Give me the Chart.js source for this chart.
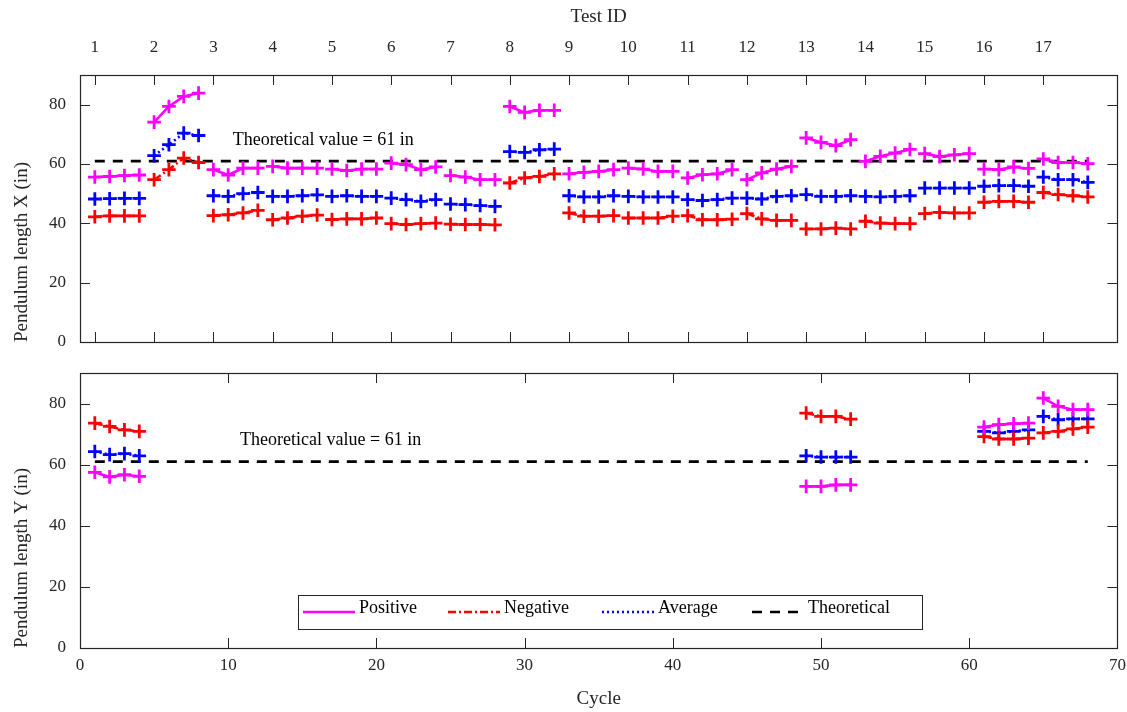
<!DOCTYPE html>
<html>
<head>
<meta charset="utf-8">
<script src="https://cdn.jsdelivr.net/npm/chart.js@4.4.0/dist/chart.umd.js"></script>
<style>
  body { margin: 0; background: #fff; }
  #wrap { position: relative; width: 1127px; height: 712px; overflow: hidden; }
  #wrap canvas { position: absolute; left: 0; }
  #chartX { top: 0; }
  #chartY { top: 358px; }
</style>
</head>
<body>
<div id="wrap">
  <canvas id="chartX" width="1127" height="358"></canvas>
  <canvas id="chartY" width="1127" height="354"></canvas>
</div>
<script>
// ---- data ----
const cyclesX = [
  1, 2, 3, 4, 5, 6, 7, 8, 9, 10, 11, 12, 13, 14, 15, 16, 17,
  18, 19, 20, 21, 22, 23, 24, 25, 26, 27, 28, 29, 30, 31, 32, 33, 34,
  35, 36, 37, 38, 39, 40, 41, 42, 43, 44, 45, 46, 47, 48, 49, 50, 51,
  52, 53, 54, 55, 56, 57, 58, 59, 60, 61, 62, 63, 64, 65, 66, 67, 68
];

// Pendulum length X, one row per test (4 cycles each)
const positiveX = [
  55.6, 55.8, 56.1, 56.3,
  74.1, 79.4, 82.8, 83.9,
  58.1, 56.3, 58.6, 58.6,
  59.2, 58.6, 58.6, 58.6,
  58.3, 57.8, 58.3, 58.3,
  60.3, 59.8, 58.1, 59.0,
  56.1, 55.6, 54.7, 54.7,
  79.4, 77.4, 78.1, 78.1,
  56.7, 57.2, 57.5, 58.1,
  58.6, 58.3, 57.5, 57.5,
  55.3, 56.4, 56.7, 58.1,
  54.7, 57.0, 58.3, 59.2,
  68.8, 67.3, 66.2, 68.2,
  60.9, 62.6, 63.7, 64.9,
  63.5, 62.5, 63.1, 63.5,
  58.3, 58.1, 59.0, 58.5,
  61.7, 60.5, 60.5, 60.1
];
const negativeX = [
  42.2, 42.5, 42.5, 42.5,
  54.7, 58.1, 62.0, 60.5,
  42.6, 42.9, 43.5, 44.4,
  41.2, 41.8, 42.4, 42.8,
  41.3, 41.5, 41.5, 41.8,
  39.9, 39.6, 39.9, 40.1,
  39.7, 39.6, 39.6, 39.5,
  53.6, 55.3, 55.8, 56.7,
  43.5, 42.4, 42.4, 42.6,
  41.8, 41.8, 41.8, 42.4,
  42.6, 41.2, 41.2, 41.4,
  43.3, 41.5, 41.0, 41.0,
  38.1, 38.1, 38.4, 38.1,
  40.7, 40.1, 39.9, 39.9,
  43.3, 43.7, 43.5, 43.5,
  47.1, 47.4, 47.4, 47.1,
  50.4, 49.7, 49.3, 48.9
];
const averageX = [
  48.2, 48.3, 48.4, 48.4,
  62.8, 66.5, 70.4, 69.6,
  49.3, 49.1, 50.0, 50.4,
  49.1, 49.1, 49.3, 49.6,
  49.1, 49.3, 49.1, 49.1,
  48.5, 48.0, 47.4, 48.0,
  46.5, 46.3, 46.0, 45.7,
  64.2, 63.9, 64.8, 65.0,
  49.3, 48.9, 48.9, 49.3,
  49.1, 48.9, 48.9, 48.9,
  48.0, 47.7, 48.0, 48.5,
  48.5, 48.2, 49.1, 49.3,
  49.7, 49.1, 49.1, 49.3,
  49.1, 48.9, 49.1, 49.3,
  51.9, 51.9, 51.9, 51.9,
  52.5, 52.7, 52.7, 52.5,
  55.6, 54.7, 54.7, 53.8
];

// Pendulum length Y is only measured in tests 1, 13, 16 and 17
const cyclesY = [1, 2, 3, 4, 49, 50, 51, 52, 61, 62, 63, 64, 65, 66, 67, 68];
const positiveY = [57.5, 56.0, 56.7, 56.2, 52.9, 52.9, 53.4, 53.4, 72.3, 73.1, 73.4, 73.6, 81.8, 79.1, 78.0, 78.0];
const negativeY = [73.6, 72.5, 71.4, 70.9, 76.9, 75.8, 75.8, 74.9, 69.2, 68.4, 68.4, 68.7, 70.4, 70.9, 71.7, 72.3];
const averageY  = [64.3, 63.3, 63.6, 62.9, 62.9, 62.5, 62.5, 62.5, 70.9, 70.4, 70.9, 71.4, 75.8, 74.7, 75.0, 75.0];

const theoreticalValue = 61;
const theoreticalCycles = [1, 68];

const testIds = [1, 2, 3, 4, 5, 6, 7, 8, 9, 10, 11, 12, 13, 14, 15, 16, 17];
const testTickCycles = [1, 5, 9, 13, 17, 21, 25, 29, 33, 37, 41, 45, 49, 53, 57, 61, 65];
const cycleTicks = [0, 10, 20, 30, 40, 50, 60, 70];
const lengthTicks = [0, 20, 40, 60, 80];

const noteText = 'Theoretical value = 61 in';

// ---- styling ----
const FONT = "'Liberation Serif', 'Times New Roman', serif";
const AXIS = '#262626';
Chart.defaults.font.family = FONT;
Chart.defaults.color = AXIS;

const series = [
  { label: 'Positive', color: '#ff00ff', dash: [] },
  { label: 'Negative', color: '#ff0000', dash: [8, 3, 2, 3] },
  { label: 'Average', color: '#0000ff', dash: [2, 3] }
];

// break the line between tests (4 cycles per test)
const testOf = c => Math.ceil(c / 4);
function toPoints(cycles, values) {
  const pts = [];
  cycles.forEach((c, i) => {
    if (i > 0 && testOf(c) !== testOf(cycles[i - 1])) {
      pts.push({ x: (c + cycles[i - 1]) / 2, y: null });
    }
    pts.push({ x: c, y: values[i] });
  });
  return pts;
}

function makeDatasets(cycles, lists) {
  const sets = series.map((s, k) => ({
    label: s.label,
    data: toPoints(cycles, lists[k]),
    borderColor: s.color,
    backgroundColor: s.color,
    borderDash: s.dash,
    borderWidth: 2.6,
    pointStyle: 'cross',
    pointRadius: 6.8,
    pointBorderWidth: 2.8,
    pointBorderColor: s.color,
    spanGaps: false,
    fill: false,
    tension: 0
  }));
  sets.push({
    label: 'Theoretical',
    data: theoreticalCycles.map(c => ({ x: c, y: theoreticalValue })),
    borderColor: '#000000',
    borderDash: [10, 8],
    borderWidth: 2.8,
    pointRadius: 0,
    fill: false
  });
  return sets;
}

// frame, inward tick marks, text note and legend
const framePlugin = {
  id: 'frame',
  afterDraw(chart, args, opts) {
    const ctx = chart.ctx;
    const { left, right, top, bottom } = chart.chartArea;
    ctx.save();
    ctx.strokeStyle = AXIS;
    ctx.lineWidth = 1;
    ctx.setLineDash([]);
    ctx.beginPath();
    Object.values(chart.scales).forEach(s => {
      s.ticks.forEach(t => {
        const p = Math.round(s.getPixelForValue(t.value)) + 0.5;
        if (s.position === 'bottom') { ctx.moveTo(p, bottom); ctx.lineTo(p, bottom - 10); }
        if (s.position === 'top') { ctx.moveTo(p, top); ctx.lineTo(p, top + 10); }
        if (s.position === 'left') { ctx.moveTo(left, p); ctx.lineTo(left + 10, p); }
        if (s.position === 'right') { ctx.moveTo(right, p); ctx.lineTo(right - 10, p); }
      });
    });
    ctx.stroke();
    ctx.lineWidth = 1.2;
    ctx.strokeRect(Math.round(left) + 0.5, Math.round(top) + 0.5,
      Math.round(right - left), Math.round(bottom - top));

    // note next to the theoretical line
    if (opts.note) {
      ctx.fillStyle = '#000';
      ctx.font = '18px ' + FONT;
      ctx.textBaseline = 'middle';
      ctx.textAlign = 'left';
      ctx.fillText(opts.note.text,
        chart.scales.x.getPixelForValue(opts.note.x),
        chart.scales.y.getPixelForValue(opts.note.y));
    }

    // legend box inside the lower panel
    if (opts.legend) {
      const L = opts.legend;
      ctx.fillStyle = '#fff';
      ctx.fillRect(L.left, L.top, L.right - L.left, L.bottom - L.top);
      ctx.strokeStyle = AXIS;
      ctx.lineWidth = 1;
      ctx.strokeRect(L.left + 0.5, L.top + 0.5, L.right - L.left, L.bottom - L.top);
      ctx.font = '18px ' + FONT;
      ctx.textBaseline = 'alphabetic';
      chart.data.datasets.forEach((ds, i) => {
        const x0 = L.items[i];
        ctx.strokeStyle = ds.borderColor;
        ctx.lineWidth = 2.4;
        ctx.setLineDash(ds.borderDash || []);
        ctx.beginPath();
        ctx.moveTo(x0, L.lineY);
        ctx.lineTo(x0 + L.sample, L.lineY);
        ctx.stroke();
        ctx.setLineDash([]);
        ctx.fillStyle = '#000';
        ctx.fillText(ds.label, x0 + L.sample + 4, L.textY);
      });
    }
    ctx.restore();
  }
};

function fixSize(w, h) {
  return s => {
    if (w !== null) s.width = w;
    if (h !== null) s.height = h;
    s.paddingLeft = s.paddingRight = s.paddingTop = s.paddingBottom = 0;
  };
}
const setTicks = list => s => { s.ticks = list.map(v => ({ value: v })); };
const tickFont = { family: FONT, size: 17 };
const titleFont = { family: FONT, size: 19 };

function buildScales(panel) {
  const isTop = panel === 'X';
  const xTickList = isTop ? testTickCycles : cycleTicks;
  return {
    x: {
      type: 'linear', position: 'bottom', min: 0, max: 70,
      afterBuildTicks: setTicks(xTickList),
      ticks: { display: !isTop, font: tickFont, color: AXIS, padding: 7, maxRotation: 0, autoSkip: false },
      grid: { display: false, drawTicks: false },
      border: { display: false },
      title: { display: !isTop, text: 'Cycle', font: titleFont, color: AXIS, padding: { top: 0, bottom: 2 } },
      afterFit: fixSize(null, isTop ? 16 : 64)
    },
    x2: {
      type: 'linear', position: 'top', min: 0, max: 70,
      afterBuildTicks: setTicks(xTickList),
      ticks: {
        display: isTop, font: tickFont, color: AXIS, padding: 17, maxRotation: 0, autoSkip: false,
        callback: (v, i) => testIds[i]
      },
      grid: { display: false, drawTicks: false },
      border: { display: false },
      title: { display: isTop, text: 'Test ID', font: titleFont, color: AXIS, padding: { top: 6, bottom: 0 } },
      afterFit: fixSize(null, isTop ? 75 : 15)
    },
    y: {
      type: 'linear', position: 'left', min: 0, max: 90,
      afterBuildTicks: setTicks(lengthTicks),
      ticks: { font: tickFont, color: AXIS, padding: 14 },
      grid: { display: false, drawTicks: false },
      border: { display: false },
      title: {
        display: true, text: 'Pendulum length ' + panel + ' (in)', align: 'start',
        font: titleFont, color: AXIS, padding: { top: 11, bottom: 0 }
      },
      afterFit: fixSize(80, null)
    },
    y2: {
      type: 'linear', position: 'right', min: 0, max: 90,
      afterBuildTicks: setTicks(lengthTicks),
      ticks: { display: false },
      grid: { display: false, drawTicks: false },
      border: { display: false },
      afterFit: fixSize(9, null)
    }
  };
}

function makeChart(id, panel, cycles, lists, note, legend) {
  return new Chart(document.getElementById(id), {
    type: 'line',
    data: { datasets: makeDatasets(cycles, lists) },
    options: {
      responsive: false,
      animation: false,
      devicePixelRatio: 1,
      events: [],
      layout: { padding: 0 },
      scales: buildScales(panel),
      plugins: {
        legend: { display: false },
        tooltip: { enabled: false },
        frame: { note, legend }
      }
    },
    plugins: [framePlugin]
  });
}

makeChart('chartX', 'X', cyclesX, [positiveX, negativeX, averageX],
  { text: noteText, x: 10.3, y: 68 }, null);

makeChart('chartY', 'Y', cyclesY, [positiveY, negativeY, averageY],
  { text: noteText, x: 10.8, y: 68 },
  { left: 298, top: 237, right: 922, bottom: 271, items: [303, 448, 602, 752], sample: 52, lineY: 254, textY: 255 });
</script>
</body>
</html>
